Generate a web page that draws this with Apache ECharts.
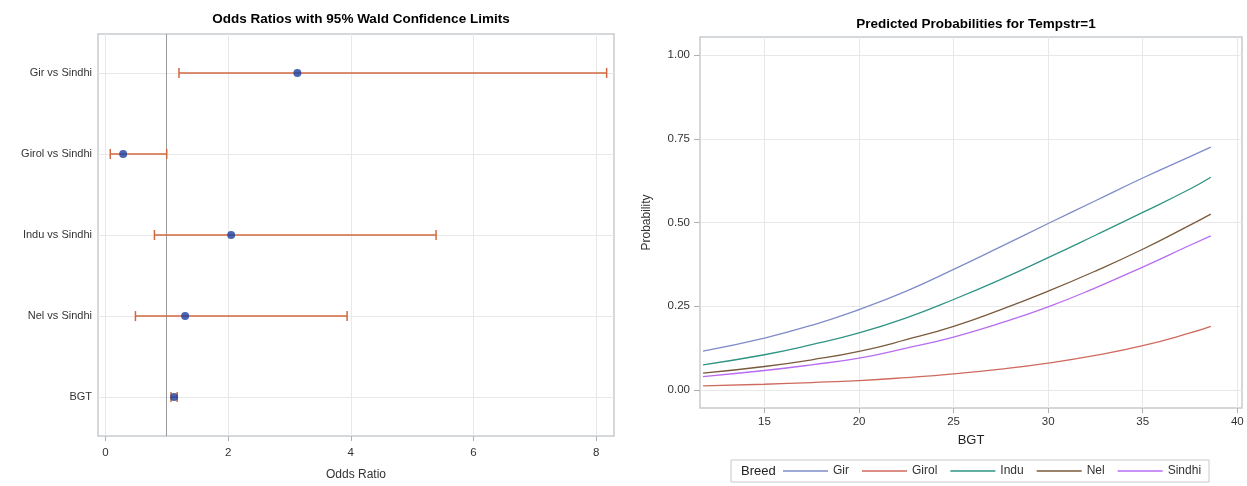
<!DOCTYPE html>
<html>
<head>
<meta charset="utf-8">
<script src="https://cdn.jsdelivr.net/npm/echarts@6/dist/echarts.min.js"></script>
<style>html,body{margin:0;padding:0;background:#fff;}#chart{width:1247px;height:486px;}</style>
</head>
<body>
<div id="chart"></div>
<script>
// ---- Odds ratio panel data ----
const oddsCategories = ['Gir vs Sindhi', 'Girol vs Sindhi', 'Indu vs Sindhi', 'Nel vs Sindhi', 'BGT'];
const oddsEstimate = [3.13, 0.29, 2.05, 1.30, 1.12];
const oddsLower = [1.20, 0.08, 0.80, 0.49, 1.07];
const oddsUpper = [8.17, 1.00, 5.39, 3.94, 1.17];
const oddsTicks = [0, 2, 4, 6, 8];
const referenceOdds = 1;

// ---- Predicted probability panel data ----
const bgtValues = [11.75, 15, 17.5, 20, 22.5, 25, 27.5, 30, 32.5, 35, 37.5, 38.6];
const probGir    = [0.116, 0.155, 0.193, 0.240, 0.295, 0.360, 0.428, 0.497, 0.565, 0.633, 0.697, 0.725];
const probGirol  = [0.012, 0.017, 0.022, 0.028, 0.037, 0.048, 0.062, 0.080, 0.103, 0.132, 0.170, 0.190];
const probIndu   = [0.075, 0.105, 0.135, 0.170, 0.215, 0.270, 0.330, 0.395, 0.462, 0.530, 0.600, 0.635];
const probNel    = [0.050, 0.070, 0.090, 0.115, 0.150, 0.190, 0.240, 0.295, 0.355, 0.420, 0.492, 0.525];
const probSindhi = [0.040, 0.058, 0.075, 0.095, 0.125, 0.158, 0.200, 0.248, 0.305, 0.367, 0.432, 0.460];
const breedNames = ['Gir', 'Girol', 'Indu', 'Nel', 'Sindhi'];
const breedProbs = [probGir, probGirol, probIndu, probNel, probSindhi];
const breedColors = ['#7f8cc9', '#cf6a5e', '#2f9484', '#7a5a3c', '#b76cf2'];
const bgtTicks = [15, 20, 25, 30, 35, 40];
const probTicks = [0, 0.25, 0.5, 0.75, 1];

const FONT = 'Liberation Sans, Arial, sans-serif';
const chart = echarts.init(document.getElementById('chart'), null, {renderer: 'canvas'});

const catIndex = oddsCategories.map((c, i) => i);
const errData = oddsCategories.map((c, i) => [oddsLower[i], oddsUpper[i], i]);
const ptData = oddsCategories.map((c, i) => [oddsEstimate[i], i]);

function renderErr(params, api) {
  const lo = api.coord([api.value(0), api.value(2)]);
  const hi = api.coord([api.value(1), api.value(2)]);
  const cap = 5;
  const style = {stroke: '#d0683f', lineWidth: 1.5, fill: null};
  return {
    type: 'group',
    children: [
      {type: 'line', shape: {x1: lo[0], y1: lo[1], x2: hi[0], y2: hi[1]}, style: style},
      {type: 'line', shape: {x1: lo[0], y1: lo[1] - cap, x2: lo[0], y2: lo[1] + cap}, style: style},
      {type: 'line', shape: {x1: hi[0], y1: hi[1] - cap, x2: hi[0], y2: hi[1] + cap}, style: style}
    ]
  };
}

const gridLine = {show: true, lineStyle: {color: '#e8e8e8', width: 1}};
const labelStyle = {color: '#333', fontFamily: FONT};

// category grid lines (light) + reference line at odds ratio 1 (grey)
const oddsMarkLines = catIndex.map(i => ({yAxis: i, lineStyle: {color: '#e8e8e8', width: 1, type: 'solid'}}))
  .concat([{xAxis: referenceOdds, lineStyle: {color: '#9a9a9a', width: 1, type: 'solid'}}]);

const series = [
  {
    type: 'custom', xAxisIndex: 0, yAxisIndex: 0,
    dimensions: ['lo', 'hi', 'cat'],
    renderItem: renderErr, data: errData,
    encode: {x: [0, 1], y: 2}, z: 3
  },
  {
    type: 'scatter', xAxisIndex: 0, yAxisIndex: 0,
    data: ptData, symbol: 'circle', symbolSize: 8,
    itemStyle: {color: '#1c3f9f'}, z: 4,
    markLine: {
      silent: true, symbol: ['none', 'none'], label: {show: false}, z: 1,
      data: oddsMarkLines
    }
  }
];
breedNames.forEach((name, k) => {
  series.push({
    name: name, type: 'line', xAxisIndex: 1, yAxisIndex: 1,
    data: bgtValues.map((b, i) => [b, breedProbs[k][i]]),
    smooth: 0.5, symbol: 'none', showSymbol: false,
    lineStyle: {color: breedColors[k], width: 1.3},
    itemStyle: {color: breedColors[k]}
  });
});

chart.setOption({
  animation: false,
  backgroundColor: '#fff',
  title: [
    {text: 'Odds Ratios with 95% Wald Confidence Limits', left: 356, top: 7, textAlign: 'center',
     textStyle: {fontFamily: FONT, fontSize: 13.5, fontWeight: 'bold', color: '#000'}},
    {text: 'Predicted Probabilities for Tempstr=1', left: 971, top: 12, textAlign: 'center',
     textStyle: {fontFamily: FONT, fontSize: 13.5, fontWeight: 'bold', color: '#000'}}
  ],
  grid: [
    {left: 98, top: 34, width: 516, height: 404, show: true, borderColor: '#c6cbcf', borderWidth: 1.5, containLabel: false},
    {left: 700, top: 37, width: 542, height: 371, show: true, borderColor: '#c6cbcf', borderWidth: 1.5, containLabel: false}
  ],
  xAxis: [
    {
      type: 'value', gridIndex: 0, min: -0.12, max: 8.29, interval: 2,
      name: 'Odds Ratio', nameLocation: 'middle', nameGap: 33,
      nameTextStyle: {fontFamily: FONT, fontSize: 12, color: '#333'},
      axisLine: {show: false, onZero: false},
      axisTick: {show: true, length: 5, lineStyle: {color: '#b0b0b0'}, customValues: oddsTicks},
      axisLabel: Object.assign({fontSize: 11.5, margin: 11, customValues: oddsTicks}, labelStyle),
      splitLine: gridLine
    },
    {
      type: 'value', gridIndex: 1, min: 11.59, max: 40.25, interval: 5,
      name: 'BGT', nameLocation: 'middle', nameGap: 26,
      nameTextStyle: {fontFamily: FONT, fontSize: 13, color: '#222'},
      axisLine: {show: false, onZero: false},
      axisTick: {show: true, length: 5, lineStyle: {color: '#b0b0b0'}, customValues: bgtTicks},
      axisLabel: Object.assign({fontSize: 11.5, margin: 8, customValues: bgtTicks}, labelStyle),
      splitLine: gridLine
    }
  ],
  yAxis: [
    {
      type: 'value', gridIndex: 0, inverse: true, min: -0.48, max: 4.48,
      axisLine: {show: false, onZero: false}, axisTick: {show: false},
      axisLabel: Object.assign({fontSize: 11, margin: 6, customValues: catIndex,
        formatter: v => oddsCategories[Math.round(v)] || ''}, labelStyle),
      splitLine: {show: false}
    },
    {
      type: 'value', gridIndex: 1, min: -0.054, max: 1.054, interval: 0.25,
      name: 'Probability', nameLocation: 'middle', nameGap: 47, nameRotate: 90,
      nameTextStyle: {fontFamily: FONT, fontSize: 12, color: '#333'},
      axisLine: {show: false, onZero: false},
      axisTick: {show: true, length: 6, lineStyle: {color: '#b0b0b0'}, customValues: probTicks},
      axisLabel: Object.assign({fontSize: 11.5, margin: 10, customValues: probTicks,
        formatter: v => v.toFixed(2)}, labelStyle),
      splitLine: gridLine
    }
  ],
  legend: {
    data: breedNames, left: 731, top: 460, orient: 'horizontal',
    borderColor: '#c8c8c8', borderWidth: 1, padding: [5, 8, 5, 52],
    icon: 'rect', itemGap: 13, itemWidth: 45, itemHeight: 1.5,
    textStyle: {fontFamily: FONT, fontSize: 12, color: '#333'}
  },
  graphic: [
    {type: 'text', left: 741, top: 465,
     style: {text: 'Breed', fontFamily: FONT, fontSize: 13, fill: '#222'}}
  ],
  series: series
});
</script>
</body>
</html>
